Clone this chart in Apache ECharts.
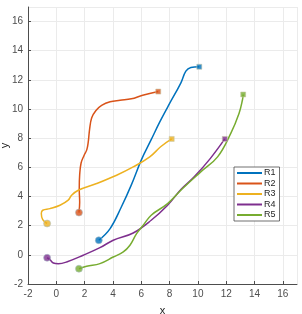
<!DOCTYPE html>
<html><head><meta charset="utf-8">
<script src="https://cdn.jsdelivr.net/npm/echarts@6/dist/echarts.min.js"></script>
<style>html,body{margin:0;padding:0;background:#fff}#c{width:302px;height:314px}</style>
</head><body><div id="c"></div>
<script>
var names = ['R1','R2','R3','R4','R5'];
var colors = ['#0072BD','#D95319','#EDB120','#7E2F8E','#77AC30'];
var xTicks = [-2,0,2,4,6,8,10,12,14,16];
var yTicks = [-2,0,2,4,6,8,10,12,14,16];
var r1 = [[3,1],[3.8,1.8],[4.6,3.3],[5.3,4.8],[6,6.5],[6.7,7.9],[7.3,9.1],[7.9,10.2],[8.8,11.8],[9.15,12.6],[9.5,12.85],[10.1,12.9]];
var r2 = [[1.6,2.9],[1.65,3.6],[1.62,4.5],[1.65,5.5],[1.75,6.3],[1.95,6.8],[2.15,7.2],[2.25,7.7],[2.35,8.6],[2.5,9.4],[2.8,9.9],[3.2,10.25],[3.8,10.5],[4.5,10.6],[5.3,10.7],[6.1,10.95],[7.2,11.2]];
var r3 = [[-0.65,2.15],[-0.96,2.42],[-1.06,2.83],[-0.96,3.06],[-0.45,3.17],[0.26,3.4],[0.84,3.75],[1.08,4.09],[1.55,4.43],[2.85,4.89],[4.26,5.46],[5.43,6.03],[6.6,6.72],[7.39,7.43],[8.15,7.95]];
var r4 = [[-0.65,-0.2],[-0.45,-0.33],[-0.21,-0.56],[0.14,-0.61],[0.73,-0.49],[1.9,-0.03],[3.08,0.49],[4.02,1.0],[5.43,1.5],[6.7,2.37],[7.86,3.4],[8.8,4.48],[9.74,5.35],[10.87,6.6],[11.9,7.95]];
var r5 = [[1.6,-0.95],[2.14,-0.78],[3.08,-0.6],[4.02,-0.15],[4.73,0.2],[5.2,0.66],[5.67,1.45],[6.14,2.03],[6.7,2.72],[7.86,3.51],[8.92,4.55],[10.2,5.69],[11.39,6.72],[12.33,8.35],[12.91,9.72],[13.15,10.64],[13.2,11.0]];
var paths = [r1,r2,r3,r4,r5];

var series = [];
paths.forEach(function(p,i){
  series.push({name:names[i],type:'line',data:p,smooth:0.4,showSymbol:false,symbol:'none',
    lineStyle:{color:colors[i],width:1.5},itemStyle:{color:colors[i]},z:2});
});
paths.forEach(function(p,i){
  series.push({name:names[i]+'_s',type:'scatter',data:[p[0]],symbol:'circle',symbolSize:7,
    itemStyle:{color:colors[i],borderColor:'rgba(170,190,200,0.9)',borderWidth:0.8},z:3});
  series.push({name:names[i]+'_e',type:'scatter',data:[p[p.length-1]],symbol:'rect',symbolSize:5,
    itemStyle:{color:colors[i],borderColor:'rgba(200,200,170,0.9)',borderWidth:0.8},z:3});
});

var chart = echarts.init(document.getElementById('c'),null,{renderer:'canvas'});
var axisCommon = {
  min:-2,max:17,interval:2,
  axisLine:{show:true,onZero:false,lineStyle:{color:'#4d4d4d',width:1}},
  axisTick:{show:true,inside:true,length:3,lineStyle:{color:'#4d4d4d'}},
  splitLine:{show:true,lineStyle:{color:'#ebebeb',width:1}},
  nameLocation:'middle',nameMoveOverlap:false,
  nameTextStyle:{color:'#262626',fontSize:11,fontFamily:'Liberation Sans'}
};
chart.setOption({
  animation:false,
  backgroundColor:'#fff',
  grid:{left:28,right:5,top:7,bottom:30,containLabel:false,outerBoundsMode:'none'},
  xAxis:Object.assign({},axisCommon,{type:'value',name:'x',nameGap:21,
    axisLabel:{color:'#4d4d4d',fontSize:10,fontFamily:'Liberation Sans',margin:5,showMaxLabel:false,
      formatter:function(v){return xTicks.indexOf(v)>=0?String(v):'';}}}),
  yAxis:Object.assign({},axisCommon,{type:'value',name:'y',nameGap:18,
    axisLabel:{color:'#4d4d4d',fontSize:10,fontFamily:'Liberation Sans',margin:5,showMaxLabel:false,
      formatter:function(v){return yTicks.indexOf(v)>=0?String(v):'';}}}),
  legend:{data:names,orient:'vertical',left:234,top:167,
    icon:'rect',itemWidth:25,itemHeight:2,itemGap:0.5,
    padding:[1,4,1,3],
    backgroundColor:'#fff',borderColor:'#4d4d4d',borderWidth:0.8,
    textStyle:{fontSize:9,lineHeight:10,color:'#262626',fontFamily:'Liberation Sans',padding:[0,0,0,-3]}},
  series:series
});
</script></body></html>
